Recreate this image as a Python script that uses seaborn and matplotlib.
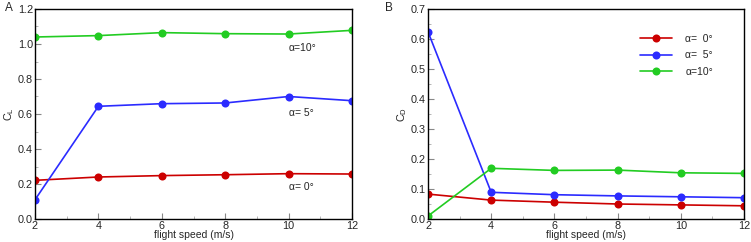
import numpy as np
import pandas as pd
import matplotlib
matplotlib.use("Agg")
import matplotlib.pyplot as plt
from matplotlib.ticker import MultipleLocator, FormatStrFormatter
import seaborn as sns

speed = [2, 4, 6, 8, 10, 12]
cl_a0 = [0.221, 0.240, 0.248, 0.253, 0.259, 0.257]
cl_a5 = [0.110, 0.644, 0.659, 0.663, 0.700, 0.676]
cl_a10 = [1.040, 1.048, 1.065, 1.059, 1.057, 1.078]
cd_a0 = [0.083, 0.063, 0.056, 0.050, 0.047, 0.044]
cd_a5 = [0.624, 0.089, 0.081, 0.077, 0.074, 0.071]
cd_a10 = [0.010, 0.169, 0.162, 0.163, 0.154, 0.152]
labels = ["α=  0°", "α=  5°", "α=10°"]
colors = ["#cc0000", "#2b2bff", "#22cc22"]

sns.set_style("ticks", {"xtick.direction": "in", "ytick.direction": "in"})
plt.rcParams['font.family'] = ['Liberation Sans', 'DejaVu Sans']
plt.rcParams['mathtext.fontset'] = 'custom'
plt.rcParams['mathtext.rm'] = 'Liberation Sans'
plt.rcParams['mathtext.it'] = 'Liberation Sans'

FS = 7.8
fig = plt.figure(figsize=(7.51, 2.42), dpi=100)
W, H = 751, 242
axA = fig.add_axes([35 / W, 1 - 219 / H, (352 - 35) / W, 210 / H])
axB = fig.add_axes([428 / W, 1 - 219 / H, (744 - 428) / W, 210 / H])

def style(ax, ymax, ymaj, ymin):
    ax.set_xlim(2, 12)
    ax.set_ylim(0, ymax)
    ax.xaxis.set_major_locator(MultipleLocator(2))
    ax.xaxis.set_minor_locator(MultipleLocator(1))
    ax.yaxis.set_major_locator(MultipleLocator(ymaj))
    ax.yaxis.set_minor_locator(MultipleLocator(ymin))
    ax.yaxis.set_major_formatter(FormatStrFormatter('%.1f'))
    ax.tick_params(which='major', length=4, width=0.8, color='#888888', labelsize=FS, pad=1.5)
    ax.tick_params(which='minor', length=2, width=0.6, color='#aaaaaa')
    for s in ax.spines.values():
        s.set_color('black')
        s.set_linewidth(1.0)
    ax.set_xlabel("flight speed (m/s)", fontsize=7.5, labelpad=-1)

for vals, c, lab in zip([cl_a0, cl_a5, cl_a10], colors, labels):
    sns.lineplot(x=speed, y=vals, ax=axA, color=c, marker='o', markersize=5.8,
                 markeredgewidth=0, linewidth=1.2, label=lab, legend=False)
style(axA, 1.2, 0.2, 0.1)
axA.set_ylabel("C$_L$", fontsize=FS, labelpad=1)
axA.text(10.0, 0.977, "α=10°", fontsize=7.5, va='center', ha='left')
axA.text(10.0, 0.606, "α= 5°", fontsize=7.5, va='center', ha='left')
axA.text(10.0, 0.183, "α= 0°", fontsize=7.5, va='center', ha='left')

for vals, c, lab in zip([cd_a0, cd_a5, cd_a10], colors, labels):
    sns.lineplot(x=speed, y=vals, ax=axB, color=c, marker='o', markersize=5.8,
                 markeredgewidth=0, linewidth=1.2, label=lab)
style(axB, 0.7, 0.1, 0.05)
axB.set_ylabel("C$_D$", fontsize=FS, labelpad=1)
axB.legend(loc='upper left', bbox_to_anchor=(0.64, 0.925), frameon=False,
           fontsize=7.5, handlelength=3.1, labelspacing=0.6, handletextpad=1.3)

fig.text(5 / W, 1 - 8 / H, "A", fontsize=8.5, va='center', ha='left')
fig.text(385 / W, 1 - 8 / H, "B", fontsize=8.5, va='center', ha='left')

fig.savefig("out.png", dpi=100)
